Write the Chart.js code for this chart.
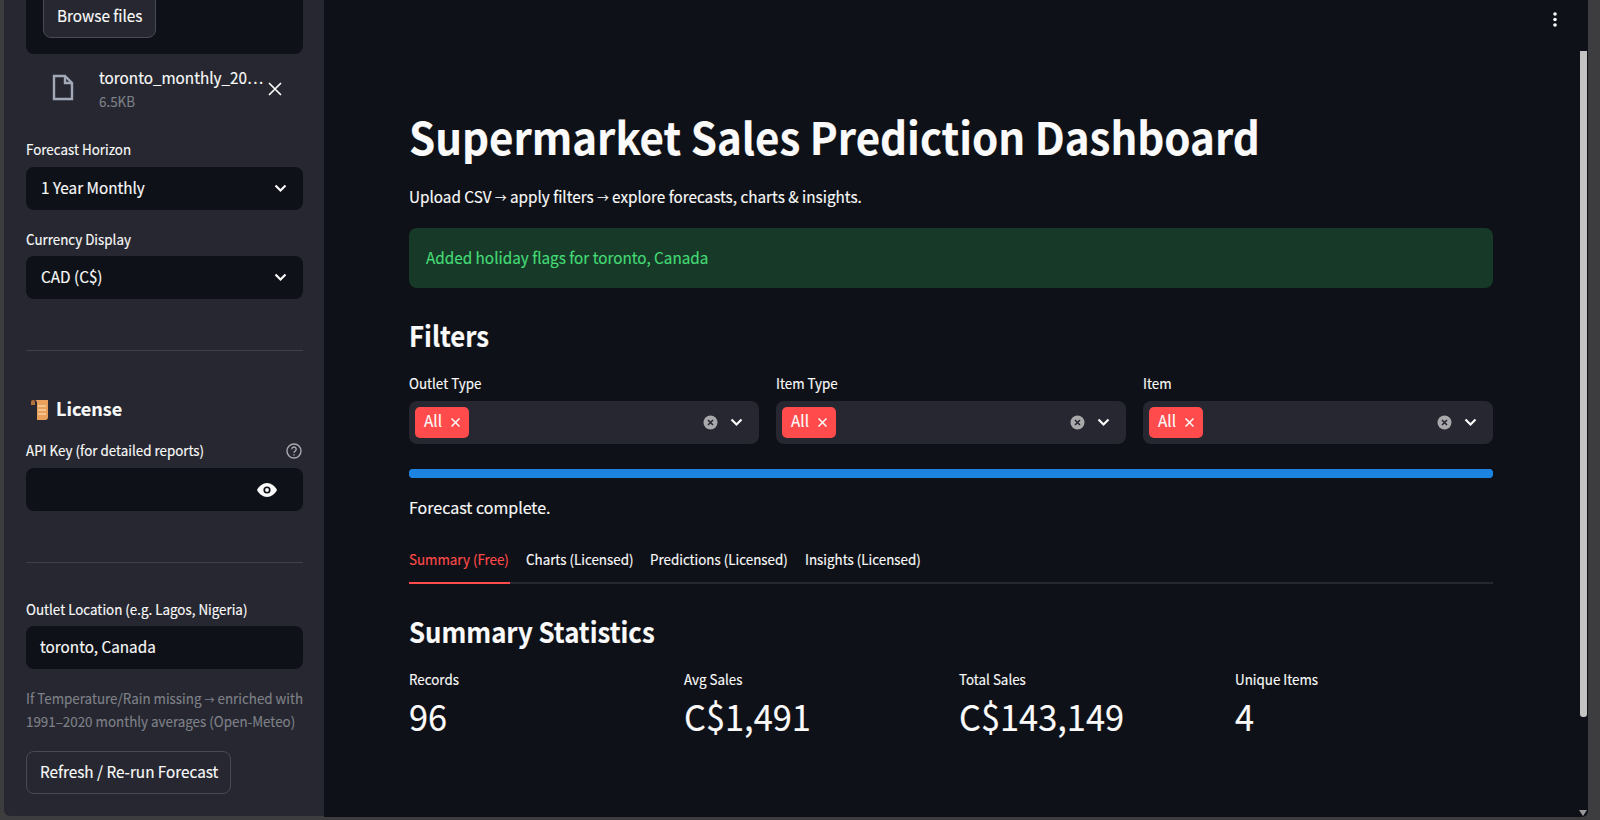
<!DOCTYPE html>
<html>
<head>
<meta charset="utf-8">
<title>Supermarket Sales Prediction Dashboard</title>
<script src="https://cdn.jsdelivr.net/npm/chart.js@4"></script>
<style>
html, body { margin: 0; width: 1600px; height: 820px; overflow: hidden; background: #3d3d3f; }
body { font-family: "Noto Sans CJK SC", "Noto Sans", sans-serif; color: #fafafa; font-size: 14px; -webkit-text-stroke: 0.15px; }
.box, .t, svg, canvas { position: absolute; }
.t { white-space: nowrap; transform: translateY(-50%) scaleX(var(--sx, 0.955)); transform-origin: left center; line-height: 1.2; }
.arrow { font-size: 0.75em; }
.dark { background: #0e1117; border-radius: 8px; }
.ms { background: #262730; border-radius: 8px; top: 401px; height: 43px; width: 350px; }
.tag { background: #ff4b4b; border-radius: 5px; top: 407px; height: 31px; width: 54px; }
#sidebar { left: 4px; top: 0; width: 320px; height: 816px; background: #262730; border-radius: 0 0 0 6px; }
#main { left: 324px; top: 0; width: 1264px; height: 817px; background: #0e1117; border-radius: 0 0 6px 0; }
.hr { background: #3f4049; height: 1px; left: 26px; width: 277px; }
.h2 { font-size: 28px; font-weight: 700; --sx: 0.92; }
</style>
</head>
<body>
<div class="box" id="sidebar"></div>
<div class="box" id="main"></div>

<!-- sidebar -->
<div class="box dark" style="left:26px;top:-20px;width:277px;height:74px"></div>
<div class="box" style="left:43px;top:-10px;width:111px;height:46px;background:#262730;border:1px solid #494a54;border-radius:8px"></div>
<div class="t" style="left:57px;top:16px;font-size:16px">Browse files</div>
<svg style="left:52px;top:74px" width="22" height="27" viewBox="0 0 22 27" fill="none" stroke="#a3a8b8" stroke-width="2.4"><path d="M2 2h11l7 7v16H2z"/><path d="M13 2v7h7"/></svg>
<div class="t" style="left:99px;top:78px;font-size:16px">toronto_monthly_20…</div>
<div class="t" style="left:99px;top:101px;font-size:14px;color:#7d8089">6.5KB</div>
<svg style="left:268px;top:82px" width="14" height="14" viewBox="0 0 14 14" stroke="#fafafa" stroke-width="1.7"><path d="M1 1l12 12M13 1L1 13"/></svg>

<div class="t" style="left:26px;top:149px">Forecast Horizon</div>
<div class="box dark" style="left:26px;top:167px;width:277px;height:43px"></div>
<div class="t" style="left:41px;top:188px;font-size:16px">1 Year Monthly</div>
<div class="t" style="left:26px;top:239px">Currency Display</div>
<div class="box dark" style="left:26px;top:256px;width:277px;height:43px"></div>
<div class="t" style="left:41px;top:277px;font-size:16px">CAD (C$)</div>
<svg class="chev" style="left:274px;top:184px" width="13" height="9" viewBox="0 0 13 9" fill="none" stroke="#fafafa" stroke-width="2.2"><path d="M1.5 1.5l5 5 5-5"/></svg>
<svg class="chev" style="left:274px;top:273px" width="13" height="9" viewBox="0 0 13 9" fill="none" stroke="#fafafa" stroke-width="2.2"><path d="M1.5 1.5l5 5 5-5"/></svg>
<div class="box hr" style="top:350px"></div>

<svg style="left:30px;top:399px" width="19" height="22" viewBox="0 0 19 22"><path d="M3 1h15v17a3 3 0 0 1-3 3H7V4a3 3 0 0 0-3-3z" fill="#e9a05c"/><path d="M3 1a2 2 0 0 1 2 2v3H1V3a2 2 0 0 1 2-2z" fill="#b5713a"/><path d="M8 7h8M8 11h8M8 15h8" stroke="#f7cfa0" stroke-width="1.5"/></svg>
<div class="t" style="left:56px;top:409px;font-size:18px;font-weight:700;--sx:1">License</div>
<div class="t" style="left:26px;top:450px">API Key (for detailed reports)</div>
<svg style="left:286px;top:443px" width="16" height="16" viewBox="0 0 16 16" fill="none" stroke="#a8aab0" stroke-width="1.4"><circle cx="8" cy="8" r="7"/><path d="M5.8 6.2a2.2 2.2 0 1 1 3.3 1.9c-.7.4-1.1.8-1.1 1.6"/><path d="M8 11.2v1.3"/></svg>
<div class="box dark" style="left:26px;top:468px;width:277px;height:43px"></div>
<svg style="left:257px;top:483px" width="20" height="14" viewBox="0 0 20 14"><path d="M0 7c2-4 6-7 10-7s8 3 10 7c-2 4-6 7-10 7S2 11 0 7z" fill="#fafafa"/><circle cx="10" cy="7" r="3.6" fill="#0e1117"/><circle cx="10" cy="7" r="1.9" fill="#fafafa"/></svg>
<div class="box hr" style="top:562px"></div>
<div class="t" style="left:26px;top:609px">Outlet Location (e.g. Lagos, Nigeria)</div>
<div class="box dark" style="left:26px;top:626px;width:277px;height:43px"></div>
<div class="t" style="left:40px;top:647px;font-size:16px">toronto, Canada</div>
<div class="t" style="left:26px;top:698px;color:#7f8188">If Temperature/Rain missing <span class="arrow">→</span> enriched with</div>
<div class="t" style="left:26px;top:721px;color:#7f8188">1991–2020 monthly averages (Open-Meteo)</div>
<div class="box" style="left:26px;top:751px;width:203px;height:41px;border:1px solid #494a54;border-radius:8px"></div>
<div class="t" style="left:40px;top:772px;font-size:16px">Refresh / Re-run Forecast</div>

<!-- main -->
<svg style="left:1553px;top:12px" width="4" height="15" viewBox="0 0 4 15" fill="#fafafa"><circle cx="2" cy="2" r="1.8"/><circle cx="2" cy="7.5" r="1.8"/><circle cx="2" cy="13" r="1.8"/></svg>
<div class="t" style="left:409px;top:136px;font-size:44px;font-weight:700">Supermarket Sales Prediction Dashboard</div>
<div class="t" style="left:409px;top:197px;font-size:16px">Upload CSV <span class="arrow">→</span> apply filters <span class="arrow">→</span> explore forecasts, charts &amp; insights.</div>
<div class="box" style="left:409px;top:228px;width:1084px;height:60px;background:#173928;border-radius:8px"></div>
<div class="t" style="left:426px;top:258px;font-size:16px;color:#45dc76">Added holiday flags for toronto, Canada</div>
<div class="t h2" style="left:409px;top:336px">Filters</div>
<div id="filters"></div>

<canvas id="progressChart" width="1084" height="9" style="left:409px;top:469px"></canvas>

<div class="t" style="left:409px;top:508px;font-size:16px;--sx:1">Forecast complete.</div>
<div id="tabs"></div>
<div class="box" style="left:409px;top:582px;width:1084px;height:2px;background:#262730"></div>
<div class="box" style="left:409px;top:582px;width:101px;height:2px;background:#ff4b4b"></div>
<div class="t h2" style="left:409px;top:632px">Summary Statistics</div>
<div id="metrics"></div>

<div class="box" style="left:1580px;top:51px;width:7px;height:666px;background:#c4c4c4;border-radius:0 0 3px 3px"></div>
<svg style="left:1578px;top:810px" width="10" height="6" viewBox="0 0 10 6" fill="#9a9a9a"><path d="M1 0h8L5 6z"/></svg>

<script>
// values
const filterLabels = ['Outlet Type', 'Item Type', 'Item'];
const filterLeft = [409, 776, 1143];
const tabLabels = ['Summary (Free)', 'Charts (Licensed)', 'Predictions (Licensed)', 'Insights (Licensed)'];
const tabLeft = [409, 526, 650, 805];
const metricLabels = ['Records', 'Avg Sales', 'Total Sales', 'Unique Items'];
const metricValues = ['96', 'C$1,491', 'C$143,149', '4'];
const metricLeft = [409, 684, 959, 1235];
const progressLabels = ['Forecast'];
const progressValues = [100];

// Function to add a bit of markup to a holder
function add(holder, html) {
    document.getElementById(holder).insertAdjacentHTML('beforeend', html);
}

filterLabels.forEach((label, i) => {
    const x = filterLeft[i];
    add('filters', `<div class="t" style="left:${x}px;top:383px">${label}</div>`);
    add('filters', `<div class="box ms" style="left:${x}px"></div>`);
    add('filters', `<div class="box tag" style="left:${x + 6}px"></div>`);
    add('filters', `<div class="t" style="left:${x + 15}px;top:421px;font-size:16px">All</div>`);
    add('filters', `<svg style="left:${x + 42}px;top:418px" width="9" height="9" viewBox="0 0 9 9" stroke="#fafafa" stroke-width="1.5"><path d="M.5.5l8 8M8.5.5l-8 8"/></svg>`);
    add('filters', `<svg style="left:${x + 294}px;top:415px" width="15" height="15" viewBox="0 0 15 15"><circle cx="7.5" cy="7.5" r="7" fill="#a9a9ab"/><path d="M5 5l5 5M10 5l-5 5" stroke="#262730" stroke-width="1.6"/></svg>`);
    add('filters', `<svg style="left:${x + 321}px;top:418px" width="13" height="9" viewBox="0 0 13 9" fill="none" stroke="#fafafa" stroke-width="2.2"><path d="M1.5 1.5l5 5 5-5"/></svg>`);
});

tabLabels.forEach((label, i) => {
    const color = i === 0 ? '#ff4b4b' : '#fafafa';
    add('tabs', `<div class="t" style="left:${tabLeft[i]}px;top:559px;color:${color}">${label}</div>`);
});

metricLabels.forEach((label, i) => {
    add('metrics', `<div class="t" style="left:${metricLeft[i]}px;top:679px">${label}</div>`);
    add('metrics', `<div class="t" style="left:${metricLeft[i]}px;top:716px;font-size:36px">${metricValues[i]}</div>`);
});

// Progress bar drawn as a one-bar horizontal chart
new Chart(document.getElementById('progressChart').getContext('2d'), {
    type: 'bar',
    data: {
        labels: progressLabels,
        datasets: [{
            data: progressValues,
            backgroundColor: '#1c83e1',
            borderRadius: { topLeft: 4.5, topRight: 4.5, bottomLeft: 4.5, bottomRight: 4.5 },
            borderSkipped: false,
            barPercentage: 1,
            categoryPercentage: 1
        }]
    },
    options: {
        indexAxis: 'y',
        responsive: false,
        animation: false,
        layout: { padding: 0 },
        plugins: { legend: { display: false }, tooltip: { enabled: false } },
        scales: {
            x: { display: false, min: 0, max: 100 },
            y: { display: false }
        }
    }
});
</script>
</body>
</html>
